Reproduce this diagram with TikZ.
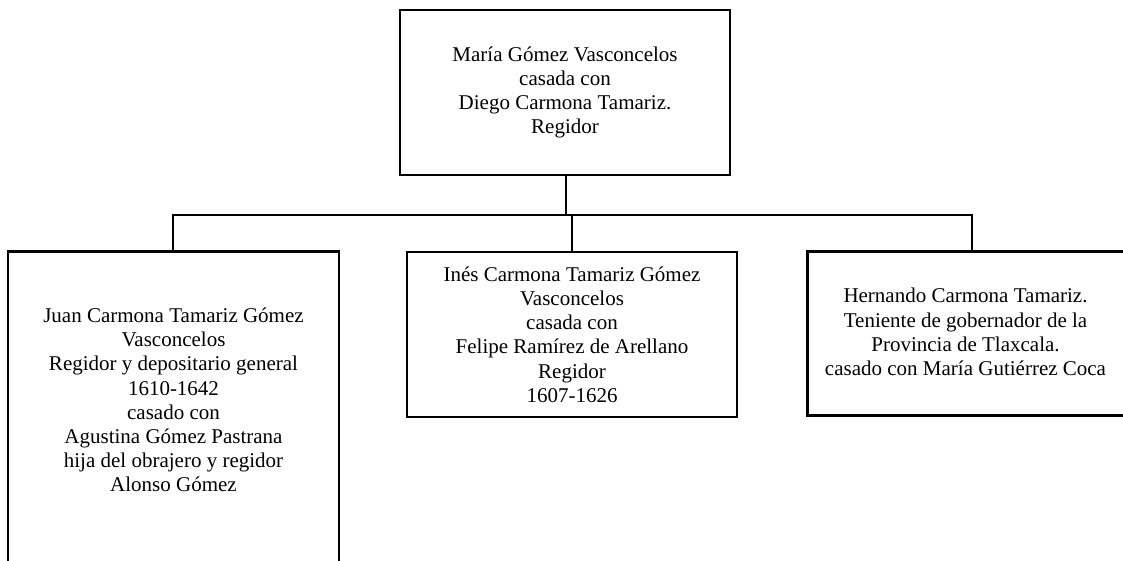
\documentclass[tikz,border=0pt]{standalone}
\usepackage{fontspec}
\setmainfont{Liberation Serif}
\begin{document}
\begin{tikzpicture}[x=1pt,y=-1pt,
  box/.style={draw=black, line width=2.6pt, rectangle, inner sep=0pt, align=center,
    font=\fontsize{21}{24.2}\selectfont},
  txt/.style={align=center, inner sep=0pt, font=\fontsize{21}{24.2}\selectfont},
  conn/.style={draw=black, line width=2.6pt}]
\useasboundingbox (0,0) rectangle (1123,561);
\clip (0,0) rectangle (1123,561);
\fill[white] (0,0) rectangle (1123,561);
% top box
\node[box, minimum width=330pt, minimum height=165pt] (top) at (565,92.5)
  {María Gómez Vasconcelos\\casada con\\Diego Carmona Tamariz.\\Regidor};
% children
\node[box, minimum width=331pt, minimum height=340pt, anchor=north] (left) at (173.5,250) {};
\node[txt] (lefttxt) at (173.5,400)
  {Juan Carmona Tamariz Gómez\\Vasconcelos\\Regidor y depositario general\\1610-1642\\casado con\\Agustina Gómez Pastrana\\hija del obrajero y regidor\\Alonso Gómez};
\node[box, minimum width=330pt, minimum height=165pt] (mid) at (572,334.5)
  {Inés Carmona Tamariz Gómez\\Vasconcelos\\casada con\\Felipe Ramírez de Arellano\\Regidor\\1607-1626};
\node[box, minimum width=320pt, minimum height=164pt, anchor=north west] (right) at (806,250) {};
\node[txt] (righttxt) at (965.5,332)
  {Hernando Carmona Tamariz.\\Teniente de gobernador de la\\Provincia de Tlaxcala.\\casado con María Gutiérrez Coca};
% connectors
\coordinate (bar) at (566,215);
\coordinate (barL) at (173,215);
\coordinate (barR) at (972,215);
\coordinate (barM) at (572,215);
\draw[conn] (top.south -| bar) -- (bar);
\draw[conn, line cap=rect] (barL) -- (barR);
\draw[conn] (barL) -- (barL |- left.north);
\draw[conn] (barM) -- (mid.north);
\draw[conn] (barR) -- (barR |- right.north);
\end{tikzpicture}
\end{document}
